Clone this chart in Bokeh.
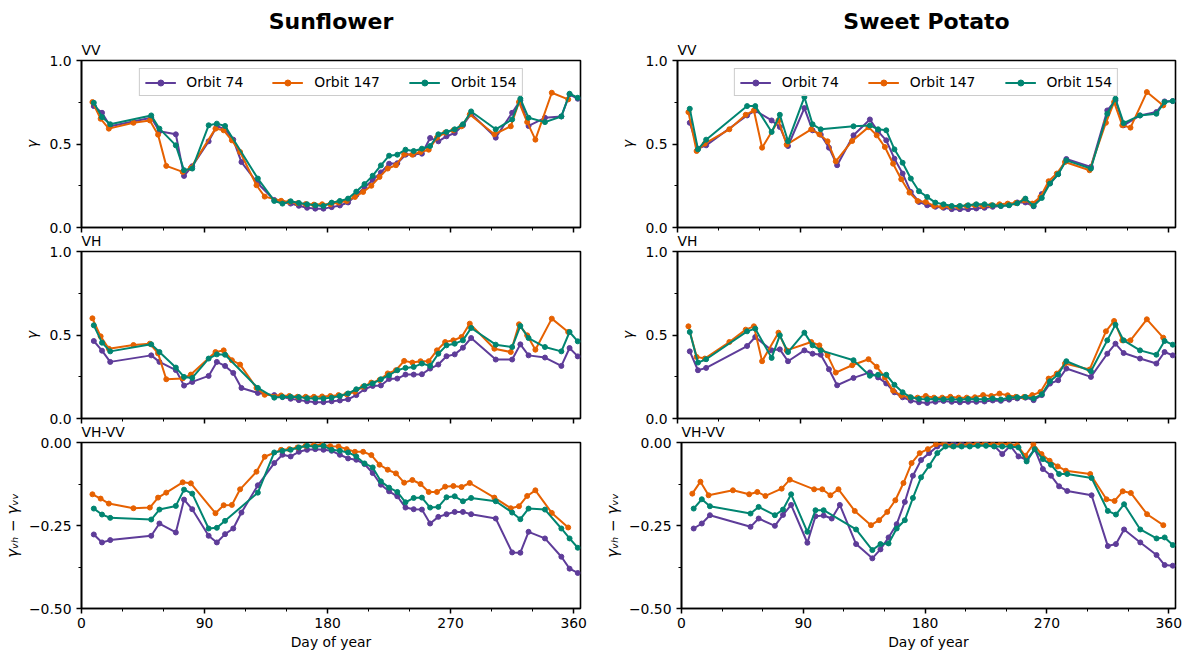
from bokeh.plotting import figure
from bokeh.models import Range1d, FixedTicker, Title
from bokeh.layouts import row, column
from bokeh.embed import file_html
from bokeh.resources import INLINE

# ------------------------------------------------------------------ data
crops = ["Sunflower", "Sweet Potato"]
orbit_labels = ["Orbit 74", "Orbit 147", "Orbit 154"]
panel_names = ["VV", "VH", "VH-VV"]
y_labels = ["\u03b3", "\u03b3", "\u03b3\u1d65\u2095 \u2212 \u03b3\u1d65\u1d65"]

days_74 = [9, 15, 21, 51, 57, 69, 75, 81, 93, 99, 105, 111, 117, 129, 141, 147, 153, 159, 165, 171,
           177, 183, 189, 195, 201, 207, 213, 219, 225, 231, 237, 243, 249, 255, 261, 267, 273, 279,
           285, 303, 315, 321, 327, 339, 351, 357, 363]
days_154 = [9, 15, 21, 51, 57, 69, 75, 81, 93, 99, 105, 129, 141, 147, 153, 159, 165, 171, 177, 183,
            189, 195, 201, 207, 213, 219, 225, 231, 237, 243, 249, 255, 261, 267, 273, 279, 285, 303,
            315, 321, 327, 339, 351, 357, 363]
days_147_sun = [8, 14, 20, 38, 50, 56, 62, 74, 80, 98, 104, 110, 116, 128, 134, 146, 152, 158, 164,
                170, 176, 182, 188, 194, 200, 206, 212, 218, 224, 230, 236, 242, 248, 254, 260, 266,
                272, 278, 284, 302, 314, 320, 326, 332, 344, 356]
days_147_sp = [8, 14, 20, 38, 50, 56, 62, 74, 80, 98, 104, 110, 116, 128, 140, 146, 152, 158, 164,
               170, 176, 182, 188, 194, 200, 206, 212, 218, 224, 230, 236, 242, 248, 254, 260, 266,
               272, 278, 284, 302, 314, 320, 326, 332, 344, 356]

# Sunflower
sun_vv_74 = [0.727, 0.687, 0.606, 0.657, 0.576, 0.558, 0.309, 0.367, 0.516, 0.606, 0.588, 0.526, 0.392,
             0.263, 0.165, 0.150, 0.143, 0.130, 0.118, 0.113, 0.113, 0.122, 0.132, 0.150, 0.195, 0.240,
             0.285, 0.330, 0.382, 0.385, 0.436, 0.438, 0.442, 0.536, 0.516, 0.546, 0.566, 0.612, 0.681,
             0.538, 0.687, 0.761, 0.608, 0.657, 0.665, 0.797, 0.771]
sun_vv_147 = [0.751, 0.651, 0.592, 0.627, 0.641, 0.556, 0.369, 0.333, 0.357, 0.592, 0.582, 0.522, 0.452,
              0.253, 0.185, 0.160, 0.153, 0.145, 0.140, 0.137, 0.139, 0.139, 0.149, 0.159, 0.183, 0.213,
              0.250, 0.303, 0.353, 0.373, 0.438, 0.436, 0.452, 0.466, 0.538, 0.568, 0.582, 0.606, 0.677,
              0.558, 0.606, 0.751, 0.631, 0.526, 0.807, 0.767]
sun_vv_154 = [0.747, 0.661, 0.618, 0.671, 0.592, 0.492, 0.343, 0.353, 0.612, 0.622, 0.608, 0.293, 0.159,
              0.143, 0.157, 0.147, 0.139, 0.133, 0.129, 0.149, 0.159, 0.173, 0.215, 0.260, 0.310, 0.372,
              0.430, 0.436, 0.466, 0.458, 0.472, 0.488, 0.558, 0.572, 0.588, 0.618, 0.695, 0.588, 0.647,
              0.771, 0.657, 0.631, 0.665, 0.801, 0.777]

sun_vh_74 = [0.464, 0.406, 0.339, 0.378, 0.339, 0.290, 0.197, 0.219, 0.255, 0.339, 0.315, 0.273, 0.183,
             0.153, 0.140, 0.128, 0.118, 0.110, 0.103, 0.098, 0.098, 0.103, 0.108, 0.115, 0.140, 0.175,
             0.195, 0.198, 0.237, 0.239, 0.263, 0.263, 0.265, 0.299, 0.323, 0.373, 0.384, 0.424, 0.482,
             0.353, 0.353, 0.444, 0.378, 0.365, 0.315, 0.422, 0.372]
sun_vh_147 = [0.600, 0.492, 0.418, 0.440, 0.448, 0.390, 0.235, 0.240, 0.263, 0.398, 0.408, 0.349, 0.323,
              0.183, 0.142, 0.138, 0.135, 0.130, 0.130, 0.130, 0.132, 0.135, 0.140, 0.145, 0.160, 0.190,
              0.215, 0.230, 0.270, 0.289, 0.345, 0.335, 0.343, 0.343, 0.408, 0.458, 0.468, 0.488, 0.568,
              0.418, 0.398, 0.564, 0.498, 0.412, 0.598, 0.518]
sun_vh_154 = [0.558, 0.454, 0.402, 0.444, 0.398, 0.305, 0.249, 0.243, 0.359, 0.384, 0.382, 0.183, 0.125,
              0.129, 0.130, 0.128, 0.122, 0.120, 0.120, 0.125, 0.135, 0.150, 0.175, 0.195, 0.210, 0.235,
              0.259, 0.289, 0.303, 0.309, 0.329, 0.315, 0.388, 0.438, 0.448, 0.468, 0.542, 0.442, 0.428,
              0.554, 0.482, 0.428, 0.402, 0.518, 0.462]

sun_d_74 = [-0.277, -0.301, -0.294, -0.281, -0.244, -0.271, -0.172, -0.201, -0.281, -0.301, -0.276,
            -0.259, -0.211, -0.129, -0.062, -0.037, -0.042, -0.028, -0.022, -0.020, -0.022, -0.025,
            -0.037, -0.048, -0.052, -0.065, -0.092, -0.127, -0.147, -0.162, -0.196, -0.201, -0.202,
            -0.244, -0.224, -0.216, -0.209, -0.209, -0.216, -0.229, -0.331, -0.332, -0.269, -0.289,
            -0.344, -0.380, -0.393]
sun_d_147 = [-0.156, -0.169, -0.184, -0.198, -0.196, -0.166, -0.151, -0.120, -0.123, -0.213, -0.189,
             -0.188, -0.141, -0.088, -0.043, -0.022, -0.020, -0.015, -0.010, -0.008, -0.007, -0.011,
             -0.012, -0.020, -0.028, -0.028, -0.038, -0.067, -0.082, -0.093, -0.121, -0.113, -0.125,
             -0.149, -0.149, -0.133, -0.131, -0.134, -0.122, -0.166, -0.198, -0.192, -0.161, -0.144,
             -0.212, -0.256]
sun_d_154 = [-0.199, -0.217, -0.227, -0.232, -0.202, -0.191, -0.142, -0.154, -0.259, -0.257, -0.236,
             -0.151, -0.030, -0.025, -0.022, -0.015, -0.010, -0.013, -0.010, -0.022, -0.025, -0.030,
             -0.042, -0.063, -0.075, -0.117, -0.136, -0.149, -0.180, -0.167, -0.166, -0.196, -0.194,
             -0.165, -0.162, -0.177, -0.167, -0.177, -0.211, -0.231, -0.199, -0.202, -0.259, -0.289,
             -0.317]

# Sweet Potato
sp_vv_74 = [0.627, 0.472, 0.492, 0.671, 0.700, 0.641, 0.602, 0.488, 0.715, 0.582, 0.556, 0.478, 0.373,
            0.552, 0.647, 0.576, 0.522, 0.412, 0.323, 0.213, 0.153, 0.133, 0.124, 0.118, 0.110, 0.110,
            0.110, 0.114, 0.118, 0.124, 0.129, 0.135, 0.150, 0.150, 0.127, 0.200, 0.265, 0.320, 0.410,
            0.363, 0.701, 0.761, 0.612, 0.671, 0.691, 0.755, 0.757]
sp_vv_147 = [0.691, 0.458, 0.502, 0.588, 0.675, 0.701, 0.478, 0.641, 0.496, 0.588, 0.558, 0.516, 0.396,
             0.518, 0.601, 0.552, 0.482, 0.382, 0.289, 0.209, 0.159, 0.153, 0.129, 0.124, 0.124, 0.124,
             0.129, 0.133, 0.129, 0.133, 0.139, 0.143, 0.147, 0.163, 0.143, 0.183, 0.277, 0.323, 0.392,
             0.343, 0.627, 0.751, 0.612, 0.598, 0.811, 0.731]
sp_vv_154 = [0.711, 0.468, 0.526, 0.727, 0.727, 0.572, 0.675, 0.516, 0.781, 0.618, 0.588, 0.606, 0.611,
             0.588, 0.582, 0.468, 0.388, 0.293, 0.217, 0.183, 0.149, 0.139, 0.129, 0.129, 0.133, 0.139,
             0.139, 0.133, 0.129, 0.133, 0.145, 0.173, 0.129, 0.177, 0.263, 0.319, 0.402, 0.353, 0.681,
             0.771, 0.625, 0.671, 0.681, 0.751, 0.757]

sp_vh_74 = [0.402, 0.289, 0.303, 0.434, 0.488, 0.408, 0.414, 0.343, 0.408, 0.388, 0.382, 0.295, 0.199,
            0.243, 0.276, 0.246, 0.210, 0.157, 0.127, 0.107, 0.097, 0.093, 0.100, 0.105, 0.100, 0.097,
            0.100, 0.100, 0.102, 0.108, 0.106, 0.113, 0.120, 0.125, 0.110, 0.140, 0.209, 0.229, 0.299,
            0.249, 0.388, 0.448, 0.392, 0.359, 0.329, 0.398, 0.378]
sp_vh_147 = [0.552, 0.369, 0.359, 0.458, 0.532, 0.552, 0.343, 0.514, 0.408, 0.458, 0.438, 0.378, 0.275,
             0.319, 0.355, 0.310, 0.246, 0.167, 0.137, 0.127, 0.125, 0.135, 0.125, 0.125, 0.130, 0.125,
             0.125, 0.127, 0.140, 0.135, 0.149, 0.139, 0.130, 0.129, 0.140, 0.159, 0.239, 0.269, 0.329,
             0.293, 0.522, 0.584, 0.468, 0.468, 0.594, 0.484]
sp_vh_154 = [0.518, 0.335, 0.355, 0.522, 0.538, 0.363, 0.498, 0.398, 0.514, 0.438, 0.408, 0.349, 0.256,
             0.262, 0.262, 0.202, 0.157, 0.127, 0.117, 0.115, 0.117, 0.115, 0.115, 0.112, 0.117, 0.115,
             0.115, 0.120, 0.114, 0.125, 0.127, 0.129, 0.120, 0.145, 0.223, 0.263, 0.343, 0.283, 0.468,
             0.562, 0.468, 0.408, 0.382, 0.464, 0.442]

sp_d_74 = [-0.259, -0.244, -0.219, -0.254, -0.229, -0.251, -0.218, -0.188, -0.302, -0.222, -0.220,
           -0.229, -0.188, -0.306, -0.349, -0.322, -0.286, -0.246, -0.179, -0.100, -0.053, -0.032,
           -0.012, -0.005, -0.003, -0.005, -0.005, -0.005, -0.005, -0.010, -0.035, -0.010, -0.042,
           -0.052, -0.020, -0.080, -0.100, -0.132, -0.146, -0.159, -0.312, -0.306, -0.262, -0.301,
           -0.339, -0.369, -0.371]
sp_d_147 = [-0.154, -0.118, -0.159, -0.144, -0.156, -0.149, -0.161, -0.139, -0.112, -0.141, -0.141,
            -0.159, -0.141, -0.206, -0.249, -0.234, -0.209, -0.174, -0.122, -0.062, -0.032, -0.020,
            -0.005, -0.003, -0.010, -0.008, -0.005, -0.005, -0.003, -0.005, -0.003, -0.005, -0.008,
            -0.040, -0.005, -0.035, -0.055, -0.072, -0.085, -0.095, -0.171, -0.176, -0.147, -0.152,
            -0.216, -0.249]
sp_d_154 = [-0.199, -0.171, -0.192, -0.214, -0.194, -0.219, -0.202, -0.156, -0.269, -0.204, -0.204,
            -0.262, -0.324, -0.306, -0.304, -0.259, -0.234, -0.167, -0.105, -0.070, -0.032, -0.012,
            -0.012, -0.012, -0.012, -0.010, -0.010, -0.012, -0.012, -0.012, -0.015, -0.057, -0.020,
            -0.050, -0.067, -0.095, -0.095, -0.107, -0.206, -0.217, -0.186, -0.262, -0.289, -0.286,
            -0.309]

x_major = [0, 90, 180, 270, 360]
x_minor = [0, 30, 60, 90, 120, 150, 180, 210, 240, 270, 300, 330, 360]

# ------------------------------------------------------------------ style
FONT = "DejaVu Sans"
TXT = "13.9px"
COLORS = ["#5e3c99", "#e66101", "#018571"]

series = {
    0: [
        [(days_74, sun_vv_74), (days_147_sun, sun_vv_147), (days_154, sun_vv_154)],
        [(days_74, sun_vh_74), (days_147_sun, sun_vh_147), (days_154, sun_vh_154)],
        [(days_74, sun_d_74), (days_147_sun, sun_d_147), (days_154, sun_d_154)],
    ],
    1: [
        [(days_74, sp_vv_74), (days_147_sp, sp_vv_147), (days_154, sp_vv_154)],
        [(days_74, sp_vh_74), (days_147_sp, sp_vh_147), (days_154, sp_vh_154)],
        [(days_74, sp_d_74), (days_147_sp, sp_d_147), (days_154, sp_d_154)],
    ],
}

# rows overlap slightly (transparent borders) so that each panel name can sit
# close to the panel above, as in the original figure
HEIGHTS = [236, 200, 234]
TOPS = [60, 24, 24]
BOTTOMS = [9, 9, 44]
ROW_SHIFT = [0, -9, -9]
NAME_STANDOFF = 6
COLSPEC = [dict(width=600, left=81, right=20), dict(width=586, left=77, right=11)]


def style_axis(ax):
    ax.axis_line_color = "black"
    ax.axis_line_width = 1.6
    ax.major_tick_line_color = "black"
    ax.major_tick_line_width = 1.5
    ax.minor_tick_line_color = "black"
    ax.minor_tick_line_width = 1
    ax.major_tick_in = 0
    ax.major_tick_out = 5
    ax.minor_tick_in = 0
    ax.minor_tick_out = 3
    ax.major_label_text_font = FONT
    ax.major_label_text_font_size = TXT
    ax.major_label_text_color = "black"
    ax.axis_label_text_font = FONT
    ax.axis_label_text_font_size = TXT
    ax.axis_label_text_color = "black"


def make_panel(c, r):
    spec = COLSPEC[c]
    yr = (-0.5, 0.0) if r == 2 else (0.0, 1.0)
    p = figure(width=spec["width"], height=HEIGHTS[r], output_backend="svg",
               toolbar_location=None, title=None,
               x_range=Range1d(0, 365), y_range=Range1d(*yr),
               min_border_left=spec["left"], min_border_right=spec["right"],
               min_border_top=TOPS[r], min_border_bottom=BOTTOMS[r])
    p.grid.visible = False
    p.outline_line_color = "black"
    p.outline_line_width = 1.6
    p.outline_line_alpha = 1.0
    p.background_fill_color = "white"
    p.border_fill_color = "white"
    p.border_fill_alpha = 0.0

    for k, (xs, ys) in enumerate(series[c][r]):
        kw = dict(legend_label=orbit_labels[k]) if r == 0 else {}
        p.line(xs, ys, line_color=COLORS[k], line_width=2, **kw)
        p.scatter(xs, ys, marker="circle", size=5, fill_color=COLORS[k],
                  line_color=COLORS[k], **kw)

    xa = p.xaxis[0]
    style_axis(xa)
    xa.ticker = FixedTicker(ticks=x_major, minor_ticks=x_minor)
    if r < 2:
        xa.major_label_overrides = {t: " " for t in x_major}
        xa.major_label_text_font_size = "1px"
        xa.major_label_standoff = 0
    else:
        xa.major_label_standoff = 4
        xa.axis_label = "Day of year"
        xa.axis_label_text_font_style = "normal"
        xa.axis_label_standoff = 3

    ya = p.yaxis[0]
    style_axis(ya)
    ya.major_label_standoff = 5
    ya.axis_label = y_labels[r]
    ya.axis_label_text_font_style = "italic"
    ya.axis_label_standoff = 6
    if r == 2:
        ya.axis_label_text_font_size = "15px"
        ya.axis_label_standoff = 4
        ya.ticker = FixedTicker(ticks=[-0.5, -0.25, 0], minor_ticks=[-0.5, -0.375, -0.25, -0.125, 0])
        ya.major_label_overrides = {0: "0.00", -0.25: "\u22120.25", -0.5: "\u22120.50"}
    else:
        ya.ticker = FixedTicker(ticks=[0, 0.5, 1], minor_ticks=[0, 0.25, 0.5, 0.75, 1])
        ya.major_label_overrides = {0: "0.0", 0.5: "0.5", 1: "1.0"}

    # panel name (VV / VH / VH-VV) as a left aligned title just above the frame
    p.add_layout(Title(text=panel_names[r], align="left", text_font=FONT,
                       text_font_size=TXT, text_font_style="normal", text_color="black",
                       standoff=NAME_STANDOFF, offset=0), "above")
    if r == 0:
        p.add_layout(Title(text=crops[c], align="center", text_font=FONT,
                           text_font_size="22px", text_font_style="bold", text_color="black",
                           standoff=6), "above")
        lg = p.legend[0]
        lg.location = "top_center"
        lg.orientation = "horizontal"
        lg.label_text_font = FONT
        lg.label_text_font_size = TXT
        lg.label_text_color = "black"
        lg.glyph_width = 31
        lg.glyph_height = 15
        lg.label_height = 15
        lg.label_standoff = 11
        lg.spacing = 29
        lg.padding = 5
        lg.margin = 8
        lg.border_line_color = "#cccccc"
        lg.border_line_width = 1
        lg.border_line_alpha = 1.0
        lg.background_fill_color = "white"
        lg.background_fill_alpha = 0.8
    return p


rows = []
for r in range(3):
    rows.append(row(make_panel(0, r), make_panel(1, r), margin=(ROW_SHIFT[r], 0, 0, 0)))
layout = column(*rows)

open("out.html", "w").write(file_html(layout, INLINE))
